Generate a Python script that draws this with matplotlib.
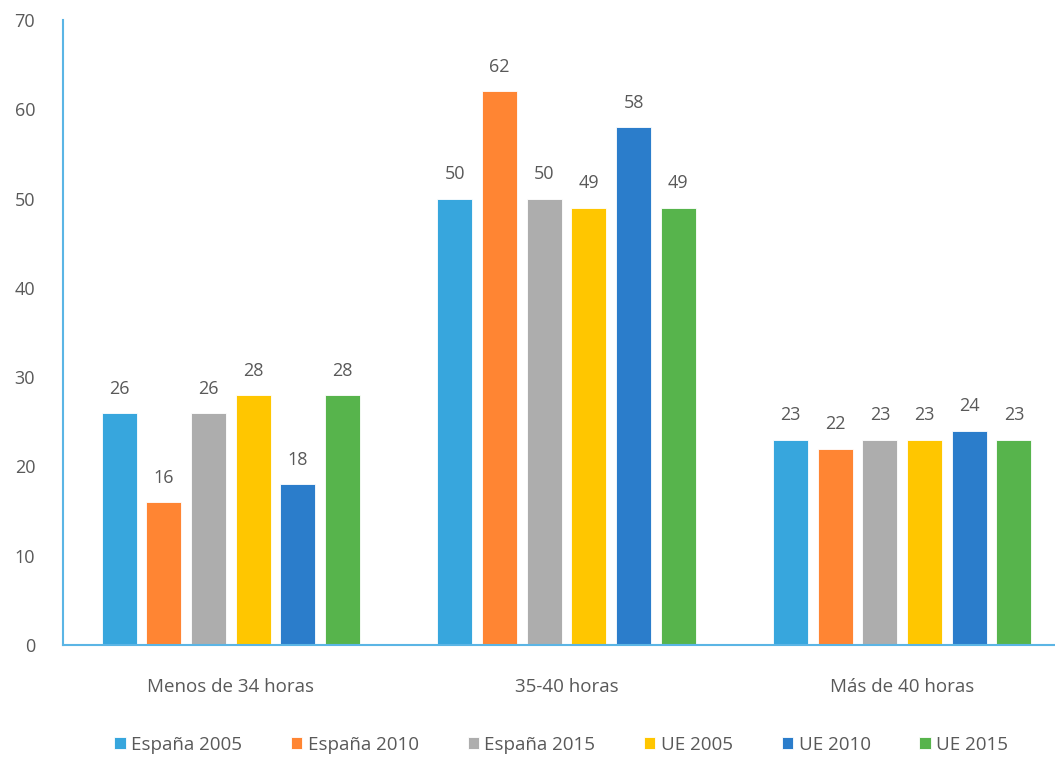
import matplotlib
matplotlib.use("Agg")
import matplotlib.pyplot as plt
import numpy as np

plt.rcParams['font.family'] = ['Open Sans', 'DejaVu Sans']

categories = ["Menos de 34 horas", "35-40 horas", "Más de 40 horas"]
series_names = ["España 2005", "España 2010", "España 2015", "UE 2005", "UE 2010", "UE 2015"]
espana_2005 = [26, 50, 23]
espana_2010 = [16, 62, 22]
espana_2015 = [26, 50, 23]
ue_2005 = [28, 49, 23]
ue_2010 = [18, 58, 24]
ue_2015 = [28, 49, 23]
series_values = [espana_2005, espana_2010, espana_2015, ue_2005, ue_2010, ue_2015]
colors = ["#37A6DD", "#FF8533", "#ADADAD", "#FFC600", "#2B7DCB", "#57B44C"]
yticks = [0, 10, 20, 30, 40, 50, 60, 70]

fig = plt.figure(figsize=(10.55, 7.6), dpi=100)
ax = fig.add_axes([63/1055, 115/760, 1 - 63/1055, 625/760])

x = np.arange(len(categories))
step = 0.133
width = 0.104
text_color = "#595959"
fs = 13
for i, (name, vals, c) in enumerate(zip(series_names, series_values, colors)):
    pos = x + (i - 2.5) * step
    ax.bar(pos, vals, width, color=c, label=name, edgecolor='white', linewidth=0.6)
    for xp, v in zip(pos, vals):
        ax.annotate(str(v), (xp, v), xytext=(0, 11), textcoords='offset points',
                    ha='center', va='bottom', fontsize=fs, color=text_color)

ax.set_xlim(-0.5, 2.455)
ax.set_ylim(0, 70)
ax.set_yticks(yticks)
ax.set_xticks(x)
ax.set_xticklabels(categories, fontsize=13.5)
ax.tick_params(axis='y', length=0, pad=20, labelsize=fs, labelcolor=text_color)
ax.tick_params(axis='x', length=0, pad=24, labelcolor=text_color)
for s in ['top', 'right']:
    ax.spines[s].set_visible(False)
for s in ['left', 'bottom']:
    ax.spines[s].set_color('#5BB5E5')
    ax.spines[s].set_linewidth(1.5)

handles, labels = ax.get_legend_handles_labels()
fig.legend(handles, labels, loc='center', bbox_to_anchor=(0.532, 1 - 745/760), ncol=6,
           frameon=False, fontsize=13.5, labelcolor=text_color, handlelength=0.6,
           handleheight=0.6, handletextpad=0.3, columnspacing=2.6)

fig.savefig("out.png", dpi=100)
